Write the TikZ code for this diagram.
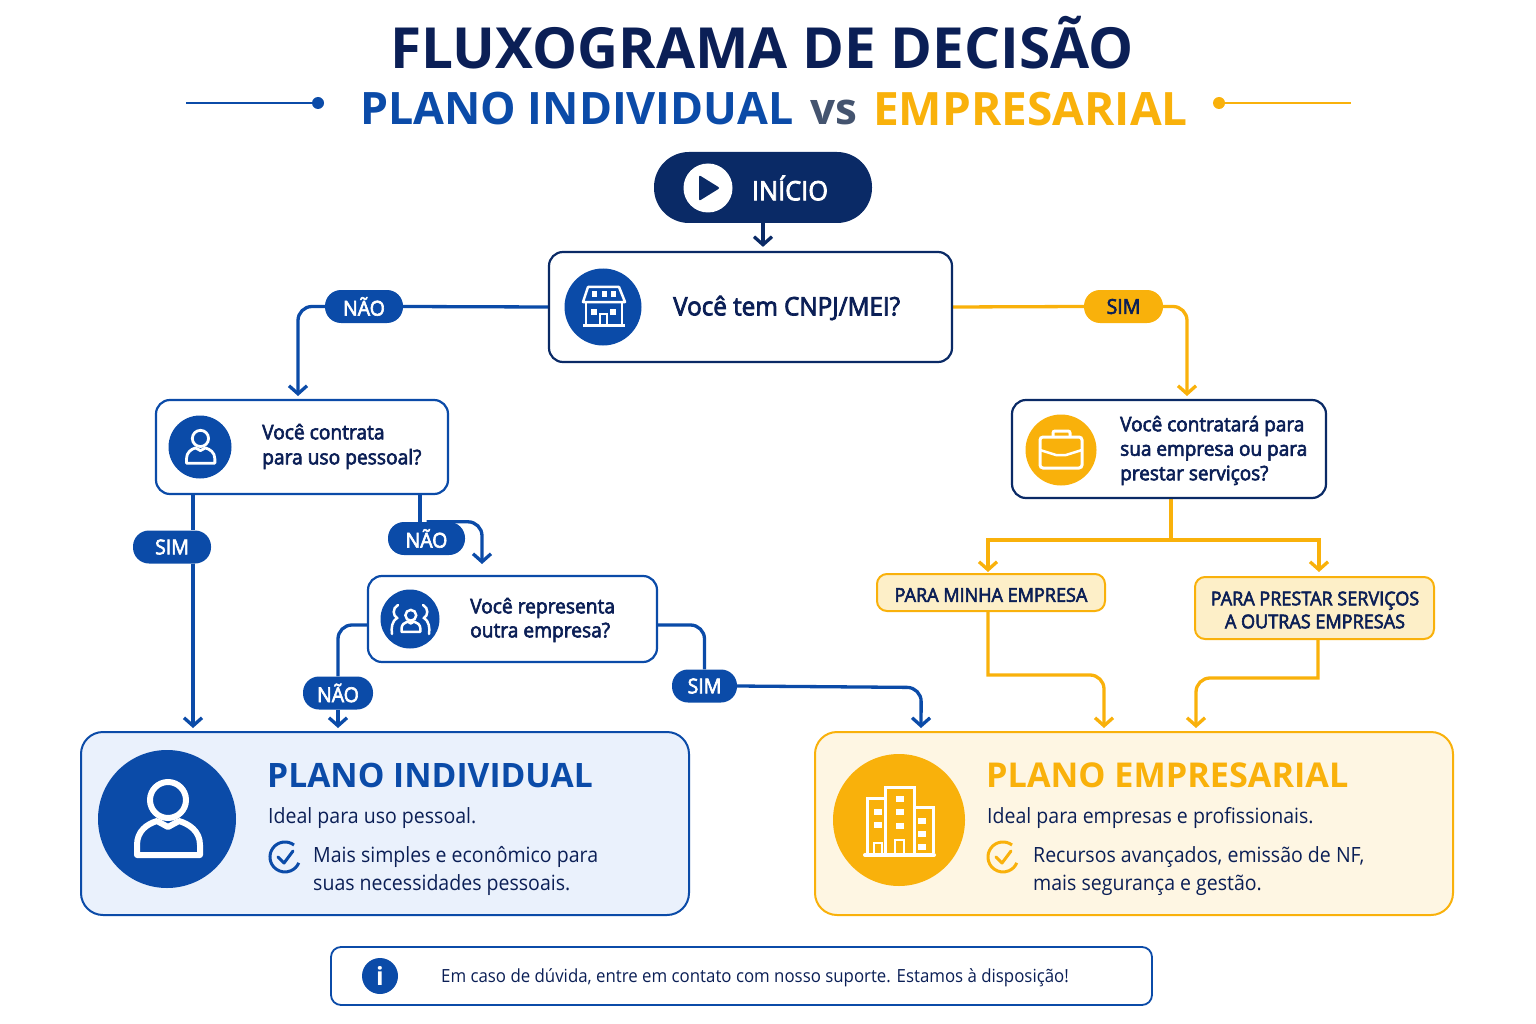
\documentclass[tikz,border=0pt]{standalone}
\usepackage{fontspec}
\setmainfont{Open Sans}
\newfontfamily\bodyfont[FakeStretch=0.93]{Open Sans}
\newfontfamily\medfont[FakeStretch=0.95,FakeBold=3]{Open Sans}
\usetikzlibrary{arrows.meta,backgrounds}
\definecolor{navy}{HTML}{0A2A66}
\definecolor{inkblue}{HTML}{0B4BA8}
\definecolor{amber}{HTML}{F9B10B}
\definecolor{inktext}{HTML}{0B1F56}
\definecolor{slategray}{HTML}{44546F}
\definecolor{paleblue}{HTML}{EAF1FC}
\definecolor{palecream}{HTML}{FEF6E3}
\definecolor{tagcream}{HTML}{FDEFC8}
\newcommand{\fsz}[2]{\fontsize{#1}{#2}\selectfont}

\begin{document}
\begin{tikzpicture}[
    x=1pt, y=-1pt,
    txt/.style={inner sep=0pt, text=inktext, align=left, anchor=west},
    stepbox/.style={draw=navy, line width=2.2pt, fill=white, rounded corners=14pt, inner sep=0pt},
    bluebox/.style={stepbox, draw=inkblue},
    tagbox/.style={draw=amber, line width=2pt, fill=tagcream, rounded corners=10pt, inner sep=0pt},
    tagtxt/.style={inner sep=0pt, align=center, text=inktext, font=\fsz{19}{23}\medfont},
    planbox/.style={line width=2pt, rounded corners=22pt, inner sep=0pt},
    disc/.style={circle, inner sep=0pt, text=white},
    pill/.style={rounded corners=16pt, inner sep=0pt, text=white, minimum height=33pt,
        font=\fsz{20.5}{24}\medfont},
    link/.style={line width=3.3pt, rounded corners=14pt, shorten >=4pt,
        -{Straight Barb[length=8pt,width=18pt,line width=3.3pt]}},
    plain/.style={line width=3.3pt, rounded corners=14pt},
    personicon/.pic={
        \draw[white, line width=#1] (1,-19) circle (18);
        \draw[white, line width=#1, line join=round] (-30,36) -- (-30,26)
            .. controls (-30,12) and (-20,5) .. (-10,2) -- (1,8) -- (12,2)
            .. controls (22,5) and (33,12) .. (33,26) -- (33,36) -- cycle;
    },
    checkicon/.pic={
        \draw[#1, line width=3pt] (9,-12) arc (-53:-337:15);
        \draw[#1, line width=3pt, line cap=round, line join=round] (-7,0) -- (-1,6) -- (8,-6);
    }
]
    % title
    \node[inner sep=0pt, text=inktext, font=\fsz{56.7}{60}\bfseries] (title) at (762,43) {FLUXOGRAMA DE DECISÃO};
    \node[txt, text=inkblue, font=\fsz{44.7}{54}\bfseries] (subind) at (360,109) {PLANO INDIVIDUAL};
    \node[txt, anchor=base west, text=slategray, font=\fsz{44}{50}\bfseries] (subvs) at (810,125) {vs};
    \node[txt, text=amber, font=\fsz{46}{54}\bfseries] (subemp) at (873,109) {EMPRESARIAL};
    \node[disc, fill=inkblue, minimum size=12pt] (dotl) at (318,103) {};
    \node[disc, fill=amber, minimum size=12pt] (dotr) at (1219,103) {};
    \coordinate (decol) at (186,103);
    \coordinate (decor) at (1351,103);
    \draw[inkblue, line width=2pt] (decol) -- (dotl);
    \draw[amber, line width=2pt] (dotr) -- (decor);

    % start
    \node[fill=navy, rounded corners=35pt, inner sep=0pt, minimum width=218pt, minimum height=71pt] (inicio) at (763,187.5) {};
    \node[disc, fill=white, minimum size=49pt] (playdisc) at (708,188) {};
    \fill[navy, rounded corners=2pt] (699,175) -- (720,188) -- (699,201) -- cycle;
    \node[inner sep=0pt, text=white, font=\fsz{26.7}{30}\medfont] (iniciotxt) at (790,188) {INÍCIO};

    % questions
    \node[stepbox, minimum width=403pt, minimum height=110pt] (q1) at (750.5,307) {};
    \node[disc, fill=inkblue, minimum size=77pt] (q1icon) at (603,307) {};
    \node[txt, font=\fsz{25.5}{30}\medfont] (q1txt) at (673,308) {Você tem CNPJ/MEI?};
    \node[bluebox, minimum width=292pt, minimum height=94pt] (q2) at (302,447) {};
    \node[disc, fill=inkblue, minimum size=63pt] (q2icon) at (200,447) {};
    \node[txt, font=\fsz{20.2}{25}\medfont] (q2txt) at (262,446.5) {Você contrata\\para uso pessoal?};
    \node[bluebox, minimum width=289pt, minimum height=86pt] (q3) at (512.5,619) {};
    \node[disc, fill=inkblue, minimum size=59pt] (q3icon) at (410,619) {};
    \node[txt, font=\fsz{20.2}{24}\medfont] (q3txt) at (470,620) {Você representa\\outra empresa?};
    \node[stepbox, minimum width=314pt, minimum height=98pt] (q4) at (1169,449) {};
    \node[disc, fill=amber, minimum size=71pt] (q4icon) at (1061,450) {};
    \node[txt, font=\fsz{20}{24.5}\medfont] (q4txt) at (1120,450.5) {Você contratará para\\sua empresa ou para\\prestar serviços?};
    \node[tagbox, minimum width=228pt, minimum height=37pt] (tag1) at (991,592.5) {};
    \node[tagtxt] (tag1txt) at (991,595) {PARA MINHA EMPRESA};
    \node[tagbox, minimum width=239pt, minimum height=62pt] (tag2) at (1314.5,608) {};
    \node[tagtxt] (tag2txt) at (1315,610) {PARA PRESTAR SERVIÇOS\\A OUTRAS EMPRESAS};

    % labels
    \node[pill, fill=inkblue, minimum width=78pt] (nao1) at (364,306.5) {NÃO};
    \node[pill, fill=amber, text=inktext, minimum width=79pt] (sim1) at (1123.5,306.5) {SIM};
    \node[pill, fill=inkblue, minimum width=78pt] (sim2) at (172,547) {SIM};
    \node[pill, fill=inkblue, minimum width=77pt] (nao2) at (426.5,538.5) {NÃO};
    \node[pill, fill=inkblue, minimum width=70pt] (nao3) at (338,693) {NÃO};
    \node[pill, fill=inkblue, minimum width=65pt] (sim3) at (704.5,686) {SIM};

    % plans
    \node[planbox, draw=inkblue, fill=paleblue, minimum width=608pt, minimum height=183pt] (planind) at (385,823.5) {};
    \node[disc, fill=inkblue, minimum size=138pt] (indicon) at (167,819) {};
    \node[txt, text=inkblue, font=\fsz{33.6}{44}\bfseries] (indtitle) at (267,775) {PLANO INDIVIDUAL};
    \node[txt, font=\fsz{21}{26}\bodyfont] (indsub) at (268,818) {Ideal para uso pessoal.};
    \node[txt, font=\fsz{21}{27.5}\bodyfont] (indtxt) at (313,871) {Mais simples e econômico para\\suas necessidades pessoais.};
    \node[planbox, draw=amber, fill=palecream, minimum width=638pt, minimum height=183pt] (planemp) at (1134,823.5) {};
    \node[disc, fill=amber, minimum size=132pt] (empicon) at (899,820) {};
    \node[txt, text=amber, font=\fsz{34.2}{44}\bfseries] (emptitle) at (986,775) {PLANO EMPRESARIAL};
    \node[txt, font=\fsz{21}{26}\bodyfont] (empsub) at (987,818) {Ideal para empresas e profissionais.};
    \node[txt, font=\fsz{21}{27.5}\bodyfont] (emptxt) at (1033,871) {Recursos avançados, emissão de NF,\\mais segurança e gestão.};

    % note
    \node[bluebox, rounded corners=10pt, line width=1.8pt, minimum width=821pt, minimum height=58pt] (note) at (741.5,976) {};
    \node[disc, fill=inkblue, minimum size=36pt, font=\fsz{25}{30}\bfseries] (noteicon) at (380,976) {i};
    \node[txt, font=\fsz{18.1}{22}\bodyfont] (notetxt) at (441,978) {Em caso de dúvida, entre em contato com nosso suporte. Estamos à disposição!};

    % icons
    \pic[scale=.45] at (200,447) {personicon=2.8pt};
    \pic[scale=1] at (167,819) {personicon=6pt};
    \pic at (285,857) {checkicon=inkblue};
    \pic at (1003,857) {checkicon=amber};
    \pic[scale=.3] at (410.5,621) {personicon=2.5pt};
    \draw[white, line width=2.5pt, line cap=round] (398,605) .. controls (392,608) and (393,616) .. (397,618)
        .. controls (392,621) and (391,628) .. (392,634);
    \draw[white, line width=2.5pt, line cap=round] (423,605) .. controls (429,608) and (428,616) .. (424,618)
        .. controls (429,621) and (430,628) .. (429,634);
    % store
    \draw[white, line width=2.5pt, line join=round] (588,287) -- (619,287) -- (625,302) -- (583,302) -- cycle;
    \draw[white, line width=2.5pt] (586,302) -- (586,325) (622,302) -- (622,325);
    \draw[white, line width=3pt] (583,325.5) -- (625,325.5);
    \foreach \xx in {594,604,613} \fill[white] (\xx-2.5,291) rectangle (\xx+2.5,297);
    \foreach \xx in {594,613} \fill[white] (\xx-3,309) rectangle (\xx+3,315);
    \draw[white, line width=2pt] (600,325) -- (600,314) -- (607,314) -- (607,325);
    % briefcase
    \draw[white, line width=3pt, rounded corners=3pt] (1040,437) rectangle (1082,468);
    \draw[white, line width=3pt, rounded corners=2pt] (1053,437) -- (1053,431) -- (1070,431) -- (1070,437);
    \draw[white, line width=2.5pt] (1040,450) -- (1056,455) -- (1066,455) -- (1082,450);
    % buildings
    \draw[white, line width=3pt] (885,853) -- (885,787) -- (914,787) -- (914,853);
    \draw[white, line width=3pt] (885,798) -- (867,798) -- (867,853);
    \draw[white, line width=3pt] (914,807) -- (933,807) -- (933,853);
    \draw[white, line width=4pt, line cap=round] (865,855) -- (934,855);
    \foreach \yy in {812,825} \fill[white] (874,\yy-3) rectangle (882,\yy+3);
    \foreach \yy in {799,812,826} \fill[white] (896,\yy-3) rectangle (904,\yy+3);
    \foreach \yy in {821,834,847} \fill[white] (918,\yy-3) rectangle (926,\yy+3);
    \draw[white, line width=2.5pt] (895,853) -- (895,840) -- (904,840) -- (904,853);
    \draw[white, line width=2.5pt] (874,853) -- (874,843) -- (882,843) -- (882,853);

    % anchor points on the boxes
    \coordinate (q2in) at (298,400);
    \coordinate (q4in) at (1187,400);
    \coordinate (q2sim) at (193,494);
    \coordinate (q2nao) at (420,494);
    \coordinate (q3in) at (482,576);
    \coordinate (q3l) at (368,625);
    \coordinate (q3r) at (657,625);
    \coordinate (q4out) at (1171,498);
    \coordinate (q4fork) at (1171,540);
    \coordinate (tag1in) at (988,574);
    \coordinate (tag2in) at (1319,577);
    \coordinate (tag1out) at (988,611);
    \coordinate (tag2out) at (1318,639);
    \coordinate (indsim) at (193,732);
    \coordinate (indnao) at (338,732);
    \coordinate (empsim) at (921,732);
    \coordinate (empa) at (1104,732);
    \coordinate (empb) at (1196,732);

    \begin{pgfonlayer}{background}
    \draw[navy, link] (inicio.south) -- (inicio.south |- q1.north);
    \draw[inkblue, plain] (q1.west) -- (nao1.east);
    \draw[inkblue, link] (nao1.west) -| (q2in);
    \draw[amber, plain] (q1.east) -- (sim1.west);
    \draw[amber, link] (sim1.east) -| (q4in);
    \draw[inkblue, plain] (q2sim) -- (q2sim |- sim2.north);
    \draw[inkblue, link] (sim2.south -| indsim) -- (indsim);
    \draw[inkblue, plain] (q2nao) -- (q2nao |- nao2.north);
    \draw[inkblue, link, shorten >=12pt] (nao2.north) -| (q3in);
    \draw[inkblue, plain] (q3l) -| (nao3.north);
    \draw[inkblue, link] (nao3.south) -- (indnao);
    \draw[inkblue, plain] (q3r) -| (sim3.north);
    \draw[inkblue, link] (sim3.east) -- ++(184,1.5) -- (empsim);
    \draw[amber, plain] (q4out) -- (q4fork);
    \draw[amber, link, sharp corners, shorten >=2pt] (q4fork) -| (tag1in);
    \draw[amber, link, sharp corners, shorten >=5pt] (q4fork) -| (tag2in);
    \draw[amber, link, sharp corners] (tag1out) -- (988,675) [rounded corners=14pt] -- (1104,675) -- (empa);
    \draw[amber, link, sharp corners] (tag2out) -- (1318,678) [rounded corners=14pt] -- (1196,678) -- (empb);
    \end{pgfonlayer}
    \useasboundingbox (0,0) rectangle (1536,1024);
\end{tikzpicture}
\end{document}
